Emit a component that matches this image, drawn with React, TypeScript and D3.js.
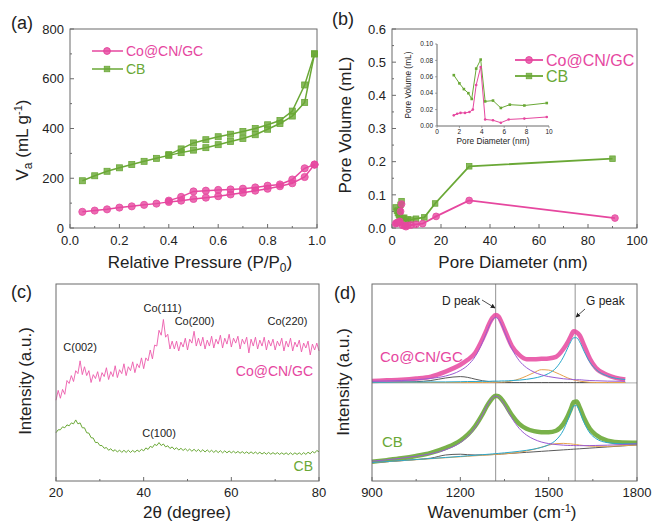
import React from "react";
import * as d3 from "d3";

// colours
const PINK = "#e6479f";
const PINK_L = "#ec5aab";
const GREEN = "#6aa836";
const AXIS = "#6b6b6b";
const TXT = "#222";
const FONT = "'Liberation Sans', Arial, sans-serif";

// (a) N2 isotherms
const pAds = [0.05, 0.1, 0.15, 0.2, 0.25, 0.3, 0.35, 0.4, 0.45, 0.5, 0.55, 0.6, 0.65, 0.7, 0.75, 0.8, 0.85, 0.9, 0.95, 0.99];
const pDes = [0.99, 0.95, 0.9, 0.85, 0.8, 0.75, 0.7, 0.65, 0.6, 0.55, 0.5, 0.45, 0.4];
const coAds = [65, 70, 75, 82, 87, 93, 98, 105, 110, 117, 122, 128, 135, 142, 150, 158, 168, 180, 205, 255];
const coDes = [255, 240, 195, 175, 170, 163, 158, 155, 153, 150, 147, 125, 110];
const cbAds = [190, 210, 228, 242, 255, 268, 280, 292, 303, 313, 323, 335, 348, 360, 375, 397, 420, 450, 505, 700];
const cbDes = [700, 575, 470, 432, 415, 400, 388, 377, 367, 355, 342, 318, 295];

// (b) pore size distribution
const poreDCo = [1.5, 1.8, 2.1, 2.5, 2.9, 3.2, 3.5, 3.9, 4.3, 5.0, 5.7, 6.4, 7.8, 9.8, 12.5, 18, 31.5, 91];
const poreVCo = [0.013, 0.015, 0.016, 0.016, 0.017, 0.02, 0.05, 0.072, 0.008, 0.007, 0.004, 0.008, 0.009, 0.011, 0.013, 0.035, 0.083, 0.03];
const poreDCb = [1.5, 2.0, 2.4, 2.8, 3.1, 3.5, 3.9, 4.3, 5.0, 5.7, 6.5, 7.8, 9.8, 13.2, 17.6, 31.5, 90];
const poreVCb = [0.062, 0.052, 0.045, 0.04, 0.033, 0.07, 0.081, 0.03, 0.031, 0.022, 0.026, 0.025, 0.028, 0.032, 0.074, 0.186, 0.209];

// (c) XRD, 20..80 deg every 0.5 deg
const xrdTheta = d3.range(20, 80.001, 0.5);
const xrdCo = [
  41, 46, 42, 46.5, 44, 51, 49.5, 53.5, 50.5, 56, 54.5, 61, 54, 58, 53.5, 56, 50, 54, 52, 55.5,
  50.5, 55, 53, 57.5, 51.5, 55.5, 53, 58.5, 52.5, 56.5, 54.5, 59.5, 53.5, 58, 56, 60.5, 55, 59.5, 57.5, 62.5,
  57, 62.5, 61, 66.5, 62, 69, 68.5, 76.5, 74, 82, 73, 74.5, 67, 71, 67, 71, 66, 70.5, 68, 72.5,
  66.5, 72, 70, 76, 68.5, 72.5, 68.5, 73, 67, 71.5, 68.5, 73.5, 67.5, 72, 69.5, 74, 67.5, 72.5, 69.5, 74.5,
  68, 72.5, 70, 73.5, 67, 72, 69.5, 73, 65, 72, 68.5, 73, 67, 71.5, 68.5, 73, 66.5, 71.5, 68.5, 72,
  66.5, 71, 68.5, 72.5, 66, 71, 68, 72.5, 66, 70.5, 68, 71.5, 65.5, 70, 67.5, 71, 64, 69.5, 66.5, 70,
  66,
];
const xrdCb = [
  24.5, 26, 26, 27.5, 27, 28.5, 28, 29.5, 29, 31, 29, 29.5, 27, 27, 24.5, 24.3, 22, 21.8, 19.5, 19.6,
  18, 18, 16.6, 17, 15.6, 16.4, 15.1, 15.9, 14.7, 15.7, 14.5, 15.6, 14.5, 15.6, 14.5, 15.5, 14.6, 15.7, 14.9, 16.1,
  15.3, 16.8, 16, 17.6, 17, 18.6, 18, 19.5, 18, 18.8, 17.3, 17.9, 16.5, 17.3, 16, 16.9, 15.7, 16.6, 15.5, 16.4,
  15.3, 16.2, 15.1, 16.1, 15, 16, 14.8, 15.9, 14.7, 15.8, 14.7, 15.6, 14.5, 15.5, 14.4, 15.4, 14.3, 15.3, 14.3, 15.2,
  14.3, 15.1, 14.2, 15, 14.1, 14.9, 14, 14.8, 13.9, 14.8, 13.9, 14.7, 13.8, 14.6, 13.7, 14.5, 13.6, 14.5, 13.6, 14.4,
  13.6, 14.4, 13.5, 14.3, 13.5, 14.3, 13.4, 14.3, 13.4, 14.3, 13.5, 14.3, 13.4, 14.4, 13.5, 14.6, 13.8, 15, 14.2, 15.5,
  14.8,
];
const xrdLabels = [
  { t: "C(002)", x: 25.5, y: 66 },
  { t: "Co(111)", x: 44.3, y: 86 },
  { t: "Co(200)", x: 51.6, y: 79 },
  { t: "Co(220)", x: 72.8, y: 79 },
  { t: "C(100)", x: 43.5, y: 22.5 },
];

// (d) Raman
const wnCo = [900, 950, 1000, 1050, 1100, 1150, 1200, 1225, 1250, 1275, 1290, 1300, 1310, 1320, 1330, 1340, 1350, 1375, 1400, 1425, 1450, 1475, 1500, 1525, 1550, 1565, 1575, 1585, 1595, 1605, 1620, 1640, 1660, 1700, 1760];
const coRaman = [50.8, 51.1, 51.4, 52, 53, 55.5, 59, 61.5, 65, 72, 77, 80.5, 83, 84.3, 83.5, 80.5, 77, 68.5, 64, 61.8, 61.8, 62, 62.2, 63, 67, 70.5, 73.5, 76, 75.5, 74, 69, 62, 57.5, 53.8, 51.5];
const coFitD = [50.6, 50.8, 51.0, 51.4, 52.1, 53.3, 56.1, 58.7, 63.1, 70.3, 75.8, 79.4, 82, 83, 82, 79.4, 75.8, 67.1, 61.1, 57.5, 55.3, 53.9, 53, 52.4, 51.9, 51.7, 51.6, 51.5, 51.4, 51.4, 51.2, 51, 50.9, 50.7, 50.6];
const coFitG = [50.1, 50.1, 50.2, 50.2, 50.3, 50.3, 50.4, 50.5, 50.5, 50.6, 50.6, 50.6, 50.7, 50.7, 50.7, 50.8, 50.8, 51.0, 51.2, 51.6, 52.2, 53.1, 54.6, 57.4, 62.9, 67.6, 70.7, 72.7, 72.7, 70.7, 65.9, 60.3, 56.7, 53.3, 51.5];
const coFitA = [50, 50, 50, 50, 50, 50, 50, 50, 50, 50, 50, 50.1, 50.1, 50.1, 50.2, 50.2, 50.3, 50.8, 51.8, 53.3, 55, 56.5, 56.3, 55, 53.3, 52.3, 51.8, 51.3, 51, 50.7, 50.4, 50.1, 50, 50, 50];
const coFitB = [50, 50, 50.1, 50.4, 51, 52.3, 53, 52.6, 51.7, 50.9, 50.6, 50.4, 50.3, 50.2, 50.1, 50, 50, 50, 50, 50, 50, 50, 50, 50, 50, 50, 50, 50, 50, 50, 50, 50, 50, 50, 50];

const wnCb = [900, 950, 1000, 1050, 1100, 1150, 1200, 1225, 1250, 1275, 1290, 1300, 1310, 1320, 1330, 1340, 1350, 1375, 1400, 1425, 1450, 1475, 1500, 1525, 1550, 1565, 1575, 1585, 1595, 1605, 1620, 1640, 1660, 1700, 1750, 1800];
const cbRaman = [9.8, 10.6, 11.5, 12.7, 14.3, 16.8, 20.5, 23.5, 27.8, 33.8, 38, 40.3, 42.2, 43.3, 43, 41.5, 39.5, 33.5, 29, 26.5, 25.3, 24.8, 24.7, 25.5, 29, 33, 36.5, 40, 40.3, 37.5, 32, 26.5, 23.5, 20.5, 19.5, 19.4];
const cbFitD = [10.06, 10.77, 11.58, 12.56, 13.87, 15.88, 19.5, 22.55, 27.2, 33.6, 38, 40.5, 42.4, 43.1, 42.6, 40.9, 38.6, 31.95, 26.7, 23.3, 21.2, 19.8, 19, 18.5, 18.2, 18.06, 18, 18, 17.95, 17.95, 17.94, 17.98, 18.04, 18.2, 18.5, 18.9];
const cbFitG = [9.36, 9.87, 10.38, 10.9, 11.42, 11.95, 12.49, 12.77, 13.05, 13.34, 13.52, 13.64, 13.77, 13.89, 14.02, 14.16, 14.3, 14.66, 15.08, 15.57, 16.19, 17.05, 18.39, 20.81, 25.8, 31.05, 35.15, 38.15, 38.25, 35.45, 29.7, 24.35, 21.59, 19.47, 18.88, 18.94];
const cbFitA = [9.3, 9.8, 10.3, 10.8, 11.3, 11.8, 12.3, 12.55, 12.8, 13.05, 13.2, 13.3, 13.4, 13.5, 13.6, 13.7, 13.8, 14.15, 14.6, 15.25, 16.1, 17.15, 18.2, 18.95, 19.1, 18.95, 18.85, 18.65, 18.45, 18.25, 18, 17.7, 17.6, 17.6, 17.9, 18.3];
const cbFitB = [9.3, 9.8, 10.3, 10.9, 11.6, 13.2, 13.6, 13.35, 13.2, 13.25, 13.3, 13.35, 13.4, 13.5, 13.6, 13.7, 13.8, 14.05, 14.3, 14.55, 14.8, 15.05, 15.3, 15.55, 15.8, 15.95, 16.05, 16.15, 16.25, 16.35, 16.5, 16.7, 16.9, 17.3, 17.8, 18.3];
const ramanPeaks = [1320, 1590];

const FIT_D = "#9a5bd3";
const FIT_G = "#2aa8cc";
const FIT_A = "#e6a24e";
const FIT_B = "#5a5a5a";

type Sc = d3.ScaleLinear<number, number>;

function Axes({ x, y, xTicks, xMinor, yTicks = [], yMinor = [], xFmt = (v: number) => String(v), yFmt = (v: number) => String(v), fs = 13, xOff = 17 }: any) {
  const [x0, x1] = (x as Sc).range();
  const [y0, y1] = (y as Sc).range();
  const tl = 4;
  return (
    <g fontSize={fs} fill={TXT}>
      <rect x={x0} y={y1} width={x1 - x0} height={y0 - y1} fill="none" stroke={AXIS} strokeWidth={1} />
      {xMinor.map((v: number) => (
        <line key={"xm" + v} x1={x(v)} x2={x(v)} y1={y0} y2={y0 - tl / 2} stroke={AXIS} />
      ))}
      {xTicks.map((v: number) => (
        <g key={"x" + v}>
          <line x1={x(v)} x2={x(v)} y1={y0} y2={y0 - tl} stroke={AXIS} />
          <text x={x(v)} y={y0 + xOff} textAnchor="middle">{xFmt(v)}</text>
        </g>
      ))}
      {yMinor.map((v: number) => (
        <line key={"ym" + v} x1={x0} x2={x0 + tl / 2} y1={y(v)} y2={y(v)} stroke={AXIS} />
      ))}
      {yTicks.map((v: number) => (
        <g key={"y" + v}>
          <line x1={x0} x2={x0 + tl} y1={y(v)} y2={y(v)} stroke={AXIS} />
          <text x={x0 - 6} y={y(v)} dy="0.36em" textAnchor="end">{yFmt(v)}</text>
        </g>
      ))}
    </g>
  );
}

function Square({ cx, cy, s, color }: any) {
  return <rect x={cx - s / 2} y={cy - s / 2} width={s} height={s} fill={color} fillOpacity={0.8} stroke={color} strokeWidth={0.8} />;
}

function PanelA() {
  const x = d3.scaleLinear().domain([0, 1]).range([70, 317]);
  const y = d3.scaleLinear().domain([0, 800]).range([228, 29]);
  const line = d3.line<[number, number]>().x((d) => x(d[0])).y((d) => y(d[1]));
  const zip = (a: number[], b: number[]) => a.map((v, i) => [v, b[i]] as [number, number]);
  const series = [
    { ads: zip(pAds, coAds), des: zip(pDes, coDes), color: PINK, circle: true },
    { ads: zip(pAds, cbAds), des: zip(pDes, cbDes), color: GREEN, circle: false },
  ];
  return (
    <g>
      <Axes x={x} y={y} xTicks={[0, 0.2, 0.4, 0.6, 0.8, 1]} xMinor={[0.1, 0.3, 0.5, 0.7, 0.9]}
        yTicks={[0, 200, 400, 600, 800]} yMinor={[100, 300, 500, 700]} xFmt={(v: number) => v.toFixed(1)} />
      {series.map((s, i) => (
        <g key={i}>
          <path d={line(s.ads) || ""} fill="none" stroke={s.color} strokeWidth={1.5} />
          <path d={line(s.des) || ""} fill="none" stroke={s.color} strokeWidth={1.5} />
          {[...s.ads, ...s.des].map((d, j) =>
            s.circle ? (
              <circle key={j} cx={x(d[0])} cy={y(d[1])} r={3.6} fill={s.color} fillOpacity={0.8} stroke={s.color} strokeWidth={0.8} />
            ) : (
              <Square key={j} cx={x(d[0])} cy={y(d[1])} s={6} color={s.color} />
            )
          )}
        </g>
      ))}
      <g fontSize={14}>
        <line x1={92} x2={123} y1={51} y2={51} stroke={PINK} strokeWidth={1.5} />
        <circle cx={107} cy={51} r={3.4} fill={PINK} fillOpacity={0.8} stroke={PINK} />
        <text x={126} y={56} fill={PINK}>Co@CN/GC</text>
        <line x1={92} x2={123} y1={69} y2={69} stroke={GREEN} strokeWidth={1.5} />
        <Square cx={107} cy={69} s={5.5} color={GREEN} />
        <text x={126} y={74} fill={GREEN}>CB</text>
      </g>
      <text x={200} y={268} fontSize={17} textAnchor="middle" fill={TXT}>
        Relative Pressure (P/P<tspan dy={4} fontSize={12}>0</tspan><tspan dy={-4}>)</tspan>
      </text>
      <text transform="translate(28,140) rotate(-90)" fontSize={17} textAnchor="middle" fill={TXT}>
        V<tspan dy={4} fontSize={12}>a</tspan><tspan dy={-4}> (mL g</tspan><tspan dy={-6} fontSize={11}>-1</tspan><tspan dy={6}>)</tspan>
      </text>
      <text x={11} y={29} fontSize={18} fill={TXT}>(a)</text>
    </g>
  );
}

function PanelB() {
  const x = d3.scaleLinear().domain([0, 100]).range([392, 637]);
  const y = d3.scaleLinear().domain([0, 0.6]).range([228, 29]);
  const co = poreDCo.map((d, i) => [d, poreVCo[i]] as [number, number]);
  const cb = poreDCb.map((d, i) => [d, poreVCb[i]] as [number, number]);
  const line = d3.line<[number, number]>().x((d) => x(d[0])).y((d) => y(d[1]));

  const ix = d3.scaleLinear().domain([0, 10]).range([437, 549]);
  const iy = d3.scaleLinear().domain([0, 0.1]).range([126, 44]);
  const iline = d3.line<[number, number]>().x((d) => ix(d[0])).y((d) => iy(d[1]));
  const coIn = co.filter((d) => d[0] <= 10);
  const cbIn = cb.filter((d) => d[0] <= 10);
  return (
    <g>
      <Axes x={x} y={y} xTicks={[0, 20, 40, 60, 80, 100]} xMinor={[10, 30, 50, 70, 90]}
        yTicks={[0, 0.1, 0.2, 0.3, 0.4, 0.5, 0.6]} yMinor={[0.05, 0.15, 0.25, 0.35, 0.45, 0.55]}
        yFmt={(v: number) => v.toFixed(1)} />
      <path d={line(cb) || ""} fill="none" stroke={GREEN} strokeWidth={1.8} />
      <path d={line(co) || ""} fill="none" stroke={PINK} strokeWidth={1.8} />
      {cb.map((d, i) => <Square key={"b" + i} cx={x(d[0])} cy={y(d[1])} s={5.5} color={GREEN} />)}
      {co.map((d, i) => (
        <circle key={"c" + i} cx={x(d[0])} cy={y(d[1])} r={3.4} fill={PINK} fillOpacity={0.8} stroke={PINK} strokeWidth={0.8} />
      ))}

      {/* inset */}
      <g fontSize={6.5} fill={TXT}>
        <line x1={437} x2={549} y1={126} y2={126} stroke={AXIS} />
        <line x1={437} x2={437} y1={44} y2={126} stroke={AXIS} />
        {[0, 2, 4, 6, 8, 10].map((v) => (
          <g key={"ix" + v}>
            <line x1={ix(v)} x2={ix(v)} y1={126} y2={128} stroke={AXIS} strokeWidth={0.6} />
            <text x={ix(v)} y={134} textAnchor="middle">{v}</text>
          </g>
        ))}
        {[0, 0.02, 0.04, 0.06, 0.08, 0.1].map((v) => (
          <g key={"iy" + v}>
            <line x1={435} x2={437} y1={iy(v)} y2={iy(v)} stroke={AXIS} strokeWidth={0.6} />
            <text x={433} y={iy(v)} dy="0.35em" textAnchor="end">{v.toFixed(2)}</text>
          </g>
        ))}
        <text x={493} y={144} fontSize={8.3} textAnchor="middle">Pore Diameter (nm)</text>
        <text transform="translate(411,85) rotate(-90)" fontSize={8.3} textAnchor="middle">Pore Volume (mL)</text>
      </g>
      <path d={iline(cbIn) || ""} fill="none" stroke={GREEN} strokeWidth={1} />
      <path d={iline(coIn) || ""} fill="none" stroke={PINK} strokeWidth={1} />
      {cbIn.map((d, i) => <rect key={"ib" + i} x={ix(d[0]) - 1.3} y={iy(d[1]) - 1.3} width={2.6} height={2.6} fill={GREEN} />)}
      {coIn.map((d, i) => <circle key={"ic" + i} cx={ix(d[0])} cy={iy(d[1])} r={1.3} fill={PINK} />)}

      <g fontSize={16}>
        <line x1={515} x2={543} y1={60} y2={60} stroke={PINK} strokeWidth={1.8} />
        <circle cx={529} cy={60} r={3.4} fill={PINK} fillOpacity={0.8} stroke={PINK} />
        <text x={546} y={66} fill={PINK}>Co@CN/GC</text>
        <line x1={515} x2={543} y1={76} y2={76} stroke={GREEN} strokeWidth={1.8} />
        <Square cx={529} cy={76} s={5.5} color={GREEN} />
        <text x={546} y={82} fill={GREEN}>CB</text>
      </g>
      <text x={513} y={268} fontSize={17} textAnchor="middle" fill={TXT}>Pore Diameter (nm)</text>
      <text transform="translate(345,125) rotate(-90)" fontSize={17} textAnchor="middle" dy="0.35em" fill={TXT}>Pore Volume (mL)</text>
      <text x={332} y={25} fontSize={18} fill={TXT}>(b)</text>
    </g>
  );
}

function PanelC() {
  const x = d3.scaleLinear().domain([20, 80]).range([56, 319]);
  const y = d3.scaleLinear().domain([0, 100]).range([481, 284]);
  const line = d3.line<number>().x((_, i) => x(xrdTheta[i])).y((d) => y(d));
  return (
    <g>
      <path d={line(xrdCo) || ""} fill="none" stroke={PINK_L} strokeWidth={0.9} />
      <path d={line(xrdCb) || ""} fill="none" stroke={GREEN} strokeWidth={1} />
      <Axes x={x} y={y} xTicks={[20, 40, 60, 80]} xMinor={[30, 50, 70]} xOff={16} />
      <g fontSize={11} fill={TXT} textAnchor="middle">
        {xrdLabels.map((l) => (
          <text key={l.t} x={x(l.x)} y={y(l.y)}>{l.t}</text>
        ))}
      </g>
      <text x={313} y={376} fontSize={14} textAnchor="end" fill={PINK}>Co@CN/GC</text>
      <text x={313} y={471} fontSize={14} textAnchor="end" fill={GREEN}>CB</text>
      <text x={187} y={518} fontSize={17} textAnchor="middle" fill={TXT}>2θ (degree)</text>
      <text transform="translate(25,381) rotate(-90)" fontSize={17} textAnchor="middle" dy="0.35em" fill={TXT}>Intensity (a.u.)</text>
      <text x={11} y={298} fontSize={18} fill={TXT}>(c)</text>
    </g>
  );
}

function PanelD() {
  const x = d3.scaleLinear().domain([900, 1800]).range([372, 637]);
  const y = d3.scaleLinear().domain([0, 100]).range([481, 284]);
  const mk = (wn: number[]) => d3.line<number>().x((_, i) => x(wn[i])).y((d) => y(d)).curve(d3.curveMonotoneX);
  const lc = mk(wnCo);
  const lb = mk(wnCb);
  const coFits = [
    { d: coFitB, c: FIT_B },
    { d: coFitA, c: FIT_A },
    { d: coFitG, c: FIT_G },
    { d: coFitD, c: FIT_D },
  ];
  const cbFits = [
    { d: cbFitB, c: FIT_B },
    { d: cbFitA, c: FIT_A },
    { d: cbFitG, c: FIT_G },
    { d: cbFitD, c: FIT_D },
  ];
  return (
    <g>
      <line x1={372} x2={637} y1={y(49.8)} y2={y(49.8)} stroke="#9a9a9a" strokeWidth={0.8} />
      {ramanPeaks.map((p) => (
        <line key={p} x1={x(p)} x2={x(p)} y1={284} y2={481} stroke="#888" strokeWidth={0.9} />
      ))}
      <path d={lc(coRaman) || ""} fill="none" stroke={PINK} strokeWidth={4.5} strokeOpacity={0.85} />
      <path d={lb(cbRaman) || ""} fill="none" stroke={GREEN} strokeWidth={4.5} strokeOpacity={0.9} />
      {coFits.map((f, i) => <path key={"cf" + i} d={lc(f.d) || ""} fill="none" stroke={f.c} strokeWidth={1} />)}
      {cbFits.map((f, i) => <path key={"bf" + i} d={lb(f.d) || ""} fill="none" stroke={f.c} strokeWidth={1} />)}
      <Axes x={x} y={y} xTicks={[900, 1200, 1500, 1800]} xMinor={[1050, 1350, 1650]} xOff={16} />
      <defs>
        <marker id="arr" viewBox="0 0 8 8" refX={7} refY={4} markerWidth={6} markerHeight={6} orient="auto">
          <path d="M0,0 L8,4 L0,8 z" fill="#222" />
        </marker>
      </defs>
      <g fontSize={12} fill={TXT}>
        <text x={442} y={305}>D peak</text>
        <line x1={482} y1={300} x2={495} y2={308} stroke="#222" strokeWidth={0.8} markerEnd="url(#arr)" />
        <text x={586} y={305}>G peak</text>
        <line x1={585} y1={309} x2={576} y2={317} stroke="#222" strokeWidth={0.8} markerEnd="url(#arr)" />
      </g>
      <text x={380} y={362} fontSize={15} fill={PINK}>Co@CN/GC</text>
      <text x={382} y={447} fontSize={15} fill={GREEN}>CB</text>
      <text x={502} y={518} fontSize={17} textAnchor="middle" fill={TXT}>
        Wavenumber (cm<tspan dy={-6} fontSize={11}>-1</tspan><tspan dy={6}>)</tspan>
      </text>
      <text transform="translate(343,382) rotate(-90)" fontSize={17} textAnchor="middle" dy="0.35em" fill={TXT}>Intensity (a.u.)</text>
      <text x={334} y={299} fontSize={18} fill={TXT}>(d)</text>
    </g>
  );
}

export default function App() {
  return (
    <div style={{ position: "absolute", left: 0, top: 0 }}>
      <svg width={653} height={522} style={{ display: "block", background: "#fff", fontFamily: FONT }}>
        <PanelA />
        <PanelB />
        <PanelC />
        <PanelD />
      </svg>
    </div>
  );
}
